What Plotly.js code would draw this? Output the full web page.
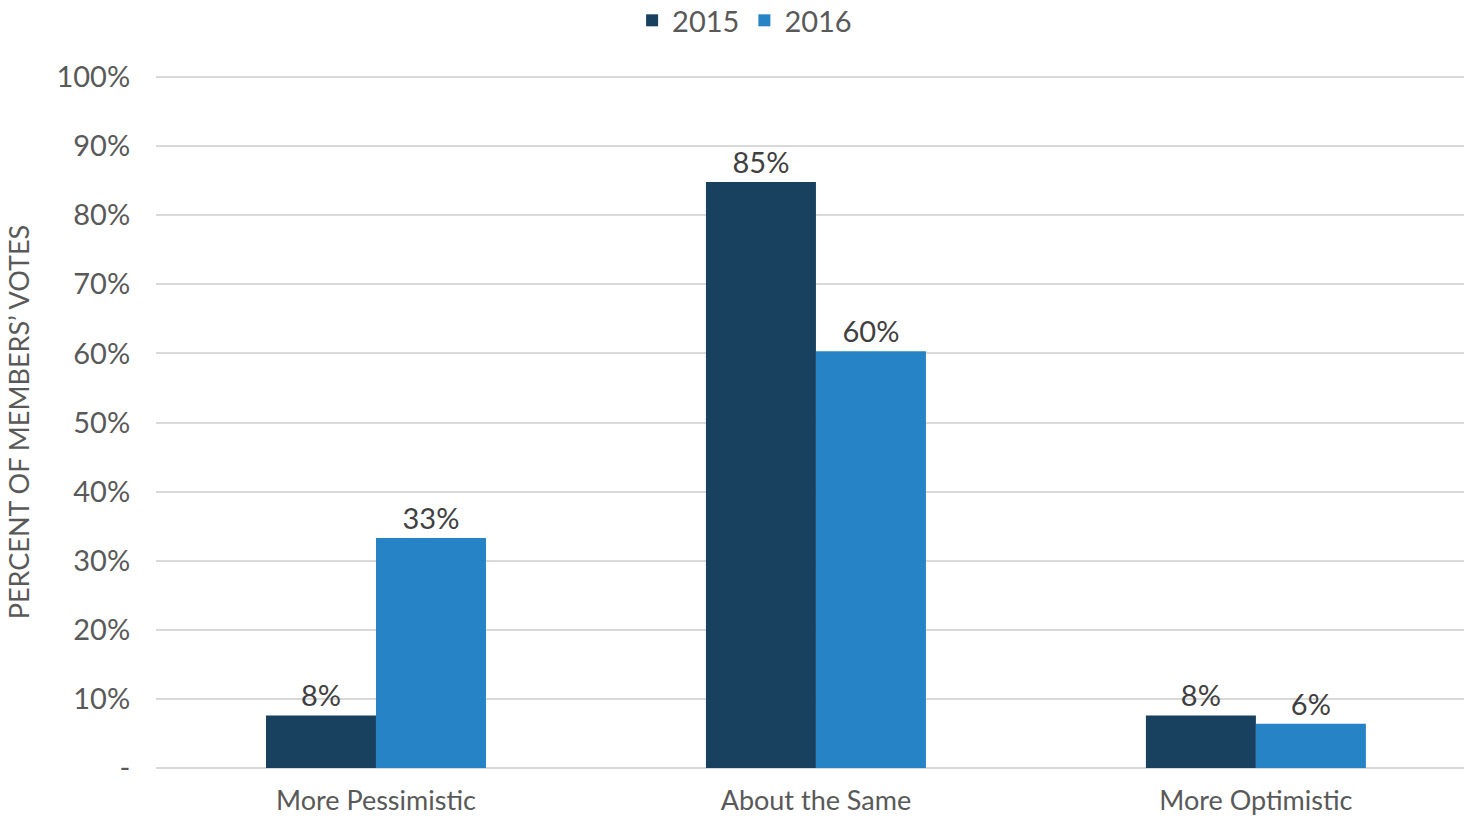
<!DOCTYPE html>
<html>
<head>
<meta charset="utf-8">
<script src="https://cdn.plot.ly/plotly-3.0.1.min.js"></script>
<style>html,body{margin:0;padding:0;background:#fff;}#chart{width:1464px;height:819px;}</style>
</head>
<body>
<div id="chart"></div>
<script>
const categories = ["More Pessimistic", "About the Same", "More Optimistic"];
const series2015 = [7.6, 84.8, 7.6];
const series2016 = [33.3, 60.3, 6.4];
const seriesNames = ["2015", "2016"];
const tickVals = [0, 10, 20, 30, 40, 50, 60, 70, 80, 90, 100];
const tickText = ["-", "10%", "20%", "30%", "40%", "50%", "60%", "70%", "80%", "90%", "100%"];

const FONT = "Lato, 'Open Sans', sans-serif";
const traces = [
  {type: "bar", name: seriesNames[0], x: categories, y: series2015,
   marker: {color: "#17415f"}, text: series2015.map(v => Math.round(v) + "%"),
   textposition: "outside", cliponaxis: false,
   textfont: {family: FONT, size: 29, color: "#404040"}, hoverinfo: "skip"},
  {type: "bar", name: seriesNames[1], x: categories, y: series2016,
   marker: {color: "#2683c6"}, text: series2016.map(v => Math.round(v) + "%"),
   textposition: "outside", cliponaxis: false,
   textfont: {family: FONT, size: 29, color: "#404040"}, hoverinfo: "skip"}
];
const layout = {
  width: 1464, height: 819,
  margin: {l: 156, r: 0, t: 76, b: 51, autoexpand: false},
  paper_bgcolor: "#fff", plot_bgcolor: "#fff",
  font: {family: FONT, color: "#595959"},
  barmode: "group", bargap: 0.5, bargroupgap: 0,
  showlegend: true,
  legend: {orientation: "h", x: 0.45, xanchor: "center", yref: "container", y: 0.975, yanchor: "middle",
           font: {family: FONT, size: 29, color: "#595959"}, traceorder: "normal",
           itemwidth: 30},
  xaxis: {type: "category", range: [-0.5, 2.473], showgrid: false, showline: false,
          ticks: "", ticklabelstandoff: 14, tickfont: {family: FONT, size: 27, color: "#595959"}, fixedrange: true},
  yaxis: {range: [0, 100.15], tickvals: tickVals, ticktext: tickText,
          showgrid: true, gridcolor: "#d9d9d9", gridwidth: 2,
          zeroline: true, zerolinecolor: "#d9d9d9", zerolinewidth: 2,
          showline: false, ticks: "outside", ticklen: 19, tickcolor: "rgba(0,0,0,0)",
          tickfont: {family: FONT, size: 29, color: "#595959"},
          title: {text: "PERCENT OF MEMBERS\u2019 VOTES", font: {family: FONT, size: 27, color: "#595959"}, standoff: 19},
          fixedrange: true}
};
Plotly.newPlot("chart", traces, layout, {displayModeBar: false, staticPlot: true});
</script>
</body>
</html>
